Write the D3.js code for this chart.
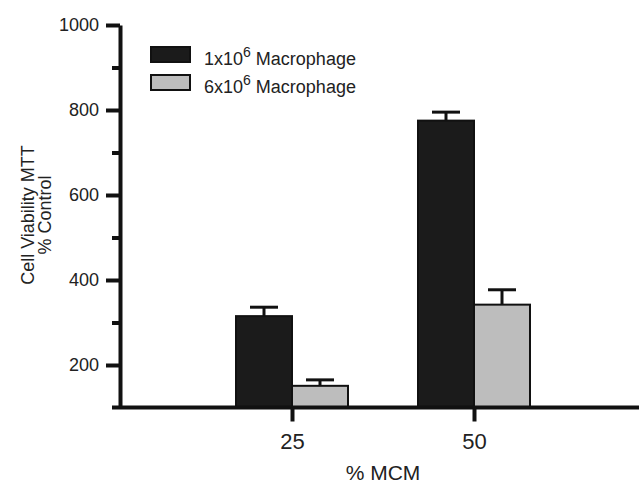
<!DOCTYPE html>
<html>
<head>
<meta charset="utf-8">
<script src="https://cdn.jsdelivr.net/npm/d3@7"></script>
<style>
  html, body { margin: 0; padding: 0; background: #fff; }
  svg { display: block; }
  text { font-family: Arial, "Liberation Sans", sans-serif; fill: #222; }
</style>
</head>
<body>
<svg id="chart" width="639" height="485"></svg>
<script>
const categories = ["25", "50"];
const seriesBase = ["1x10", "6x10"];
const seriesExp = ["6", "6"];
const seriesNames = ["1x10^6 Macrophage", "6x10^6 Macrophage"];
const values1 = [315, 775];
const values2 = [151, 342];
const errors1 = [21, 20];
const errors2 = [14, 35];
const majorTicks = [200, 400, 600, 800, 1000];
const minorTicks = [300, 500, 700, 900];
const colors = ["#1b1b1b", "#bdbdbd"];

const svg = d3.select("#chart");

const y = d3.scaleLinear().domain([100, 1000]).range([407.5, 25]);
const x = d3.scalePoint().domain(categories).range([110, 656]).padding(1);
const x1 = d3.scaleBand().domain(seriesNames).range([-56, 56]).padding(0);

const rows = [];
categories.forEach((c, i) => {
  rows.push({cat: c, s: seriesNames[0], v: values1[i], e: errors1[i], col: colors[0]});
  rows.push({cat: c, s: seriesNames[1], v: values2[i], e: errors2[i], col: colors[1]});
});

// error bars (upper only)
const eb = svg.append("g").attr("stroke", "#111").attr("stroke-width", 3);
rows.forEach(d => {
  const cx = x(d.cat) + x1(d.s) + x1.bandwidth() / 2;
  eb.append("line").attr("x1", cx).attr("x2", cx).attr("y1", y(d.v)).attr("y2", y(d.v + d.e));
  eb.append("line").attr("x1", cx - x1.bandwidth() / 4).attr("x2", cx + x1.bandwidth() / 4)
    .attr("y1", y(d.v + d.e)).attr("y2", y(d.v + d.e));
});

// bars
svg.append("g").selectAll("rect").data(rows).join("rect")
  .attr("x", d => x(d.cat) + x1(d.s))
  .attr("y", d => y(d.v))
  .attr("width", x1.bandwidth())
  .attr("height", d => y(100) - y(d.v))
  .attr("fill", d => d.col)
  .attr("stroke", "#111")
  .attr("stroke-width", 2);

// y axis
const yAxis = svg.append("g").attr("transform", "translate(120,0)")
  .call(d3.axisLeft(y).tickValues(majorTicks).tickSize(14).tickSizeOuter(0).tickPadding(7).tickFormat(d3.format("d")));
yAxis.select(".domain").attr("stroke", "#111").attr("stroke-width", 4);
yAxis.selectAll(".tick line").attr("stroke", "#111").attr("stroke-width", 4);
yAxis.selectAll(".tick text").attr("font-size", 18).style("font-family", "Arial, 'Liberation Sans', sans-serif").attr("fill", "#222");

const yMinor = svg.append("g").attr("transform", "translate(120,0)")
  .call(d3.axisLeft(y).tickValues(minorTicks).tickSize(8).tickFormat(""));
yMinor.select(".domain").remove();
yMinor.selectAll(".tick line").attr("stroke", "#111").attr("stroke-width", 4);

// x axis
const xAxis = svg.append("g").attr("transform", `translate(0,${y(100)})`)
  .call(d3.axisBottom(x).tickSize(14).tickSizeOuter(0).tickPadding(12));
xAxis.select(".domain").attr("d", `M112,0H639`).attr("stroke", "#111").attr("stroke-width", 4);
xAxis.selectAll(".tick line").attr("stroke", "#111").attr("stroke-width", 4);
xAxis.selectAll(".tick text").attr("font-size", 22).style("font-family", "Arial, 'Liberation Sans', sans-serif").attr("fill", "#222");

// axis titles
svg.append("text").attr("x", 383).attr("y", 480).attr("text-anchor", "middle")
  .attr("font-size", 21).text("% MCM");

const yt = svg.append("text").attr("transform", "translate(34,215) rotate(-90)")
  .attr("text-anchor", "middle").attr("font-size", 18);
yt.append("tspan").attr("x", 0).attr("y", 0).text("Cell Viability MTT");
yt.append("tspan").attr("x", 0).attr("y", 17).text("% Control");

// legend
const lg = svg.append("g");
seriesNames.forEach((s, i) => {
  const yy = 47 + i * 28;
  lg.append("rect").attr("x", 151).attr("y", yy).attr("width", 39).attr("height", 15)
    .attr("fill", colors[i]).attr("stroke", "#111").attr("stroke-width", 2);
  const t = lg.append("text").attr("x", 204).attr("y", yy + 18).attr("font-size", 18);
  t.append("tspan").text(seriesBase[i]);
  t.append("tspan").attr("font-size", 14).attr("dy", -8).text(seriesExp[i]);
  t.append("tspan").attr("dy", 8).text(" Macrophage");
});
</script>
</body>
</html>
